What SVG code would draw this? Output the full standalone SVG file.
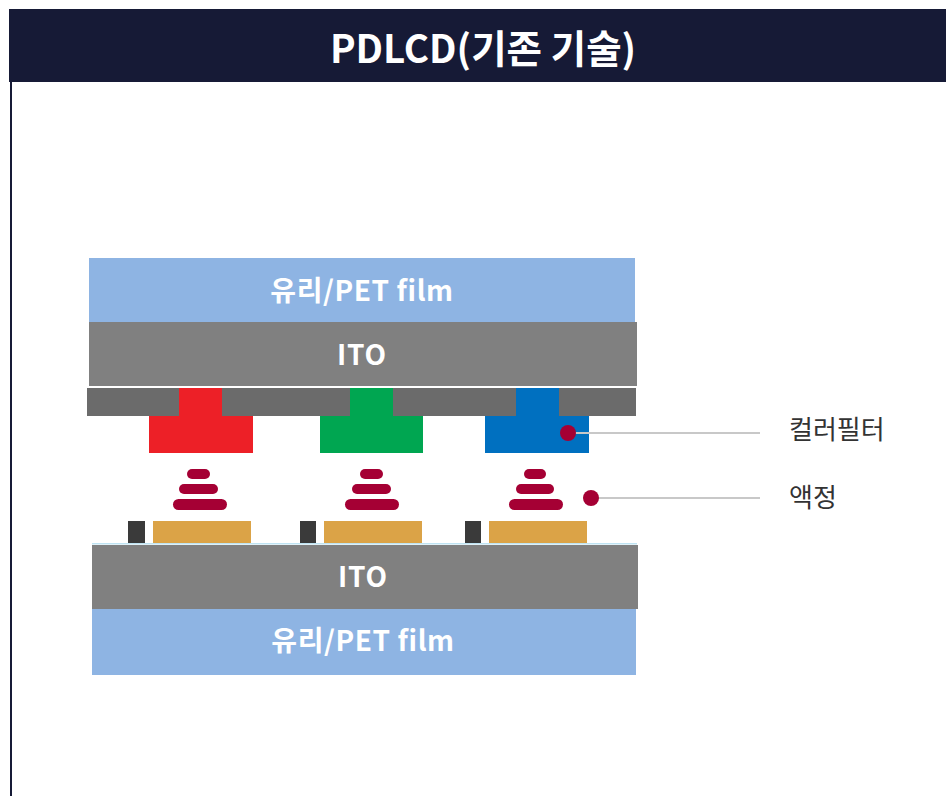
<svg xmlns="http://www.w3.org/2000/svg" width="946" height="796" viewBox="0 0 946 796">
  <style>
    .glass { fill: #8EB4E3; }
    .ito { fill: #808080; }
    .band { fill: #6B6B6B; }
    .lc { fill: #A50034; }
    .pad { fill: #DBA347; }
    .tft { fill: #3A3A3A; }
    .layer-text { font-family: "Noto Sans CJK KR", "Noto Sans", sans-serif; font-weight: bold; fill: #FFFFFF; text-anchor: middle; }
    .label { font-family: "Noto Sans CJK KR", "Noto Sans", sans-serif; font-size: 26px; fill: #333333; }
    .leader { stroke: #C8C8C8; stroke-width: 2; fill: none; }
    .dot { fill: #A50034; }
  </style>

  <rect width="946" height="796" fill="#FFFFFF"/>

  <!-- header bar and frame edge -->
  <g id="header">
    <rect x="9" y="9" width="937" height="73" fill="#161A36"/>
    <rect x="10" y="82" width="2" height="714" fill="#161A36"/>
    <text x="483" y="63" font-family="'Noto Sans CJK KR', 'Noto Sans', sans-serif" font-weight="bold" font-size="38.5" fill="#FFFFFF" text-anchor="middle">PDLCD(기존 기술)</text>
  </g>

  <!-- upper substrate -->
  <g id="top-glass">
    <rect class="glass" x="89" y="258" width="546" height="64"/>
    <text class="layer-text" x="362" y="301" font-size="28" letter-spacing="0.6">유리/PET film</text>
  </g>
  <g id="top-ito">
    <rect class="ito" x="89" y="322" width="548" height="64"/>
    <text class="layer-text" x="362" y="365" font-size="28" letter-spacing="0.8">ITO</text>
  </g>

  <!-- colour filter layer -->
  <g id="color-filter">
    <rect class="band" x="87" y="388" width="549" height="28"/>
    <path fill="#ED2027" d="M179 388H222V416H253V453H149V416H179Z"/>
    <path fill="#00A651" d="M350 388H393V416H423V453H320V416H350Z"/>
    <path fill="#0070C0" d="M516 388H559V416H589V453H485V416H516Z"/>
  </g>

  <!-- liquid crystal droplets -->
  <g id="liquid-crystal">
    <rect class="lc" x="187" y="469" width="23" height="10" rx="5"/>
    <rect class="lc" x="179" y="484" width="39" height="10" rx="5"/>
    <rect class="lc" x="173" y="499" width="54" height="11" rx="5.5"/>
    <rect class="lc" x="360" y="469" width="23" height="10" rx="5"/>
    <rect class="lc" x="352" y="484" width="39" height="10" rx="5"/>
    <rect class="lc" x="345" y="499" width="54" height="11" rx="5.5"/>
    <rect class="lc" x="524" y="469" width="22" height="10" rx="5"/>
    <rect class="lc" x="516" y="484" width="38" height="10" rx="5"/>
    <rect class="lc" x="509" y="499" width="54" height="11" rx="5.5"/>
  </g>

  <!-- pixel electrodes and switching elements -->
  <g id="pixel-electrodes">
    <rect class="tft" x="128" y="521" width="17" height="22"/>
    <rect class="pad" x="153" y="521" width="98" height="22"/>
    <rect class="tft" x="300" y="521" width="16" height="22"/>
    <rect class="pad" x="324" y="521" width="98" height="22"/>
    <rect class="tft" x="465" y="521" width="16" height="22"/>
    <rect class="pad" x="489" y="521" width="98" height="22"/>
  </g>

  <!-- lower substrate -->
  <g id="bottom-ito">
    <rect x="92" y="543" width="545" height="1.5" fill="#BFE3F2"/>
    <rect class="ito" x="92" y="545" width="546" height="64"/>
    <text class="layer-text" x="363" y="587" font-size="28" letter-spacing="0.8">ITO</text>
  </g>
  <g id="bottom-glass">
    <rect class="glass" x="92" y="609" width="544" height="66"/>
    <text class="layer-text" x="363" y="651" font-size="28" letter-spacing="0.6">유리/PET film</text>
  </g>

  <!-- callout leaders -->
  <g id="connectors">
    <line class="leader" x1="568" y1="433" x2="760" y2="433"/>
    <circle class="dot" cx="568" cy="433" r="8"/>
    <line class="leader" x1="591" y1="498" x2="760" y2="498"/>
    <circle class="dot" cx="591" cy="498" r="8"/>
  </g>

  <g id="label-color-filter">
    <text class="label" x="789" y="439">컬러필터</text>
  </g>
  <g id="label-liquid-crystal">
    <text class="label" x="789" y="507">액정</text>
  </g>
</svg>
